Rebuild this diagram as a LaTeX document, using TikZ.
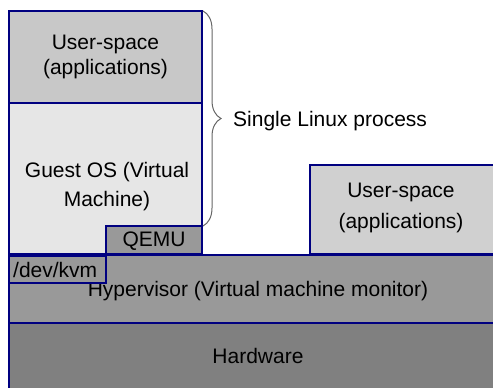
\documentclass[tikz,border=0pt]{standalone}
\usepackage{fontspec}
\setmainfont{Liberation Sans}
\usetikzlibrary{decorations.pathreplacing}

\definecolor{boxline}{RGB}{0,0,128}
\definecolor{userfill}{RGB}{200,200,200}
\definecolor{guestfill}{RGB}{230,230,230}
\definecolor{hypfill}{RGB}{153,153,153}
\definecolor{hwfill}{RGB}{128,128,128}
\definecolor{userfilltwo}{RGB}{208,208,208}

\begin{document}
\begin{tikzpicture}[x=1pt,y=1pt,
        layer/.style={draw=boxline,line width=1.5pt},
        label/.style={font=\fontsize{21}{25}\selectfont,align=center,inner sep=0pt}]
        \useasboundingbox (0,0) rectangle (493,388);
        \clip (0,0) rectangle (493,388);

        % hardware and hypervisor
        \draw[layer,fill=hwfill] (9,-5) rectangle (500,65);
        \node[label] (hw) at (258,32) {Hardware};
        \draw[layer,fill=hypfill] (9,65) rectangle (500,133);
        \node[label] (hyp) at (258,97) {Hypervisor (Virtual machine monitor)};
        \draw[layer,fill=hypfill] (9,105) rectangle (106,132);
        \node[label,anchor=west] (kvm) at (13,118) {/dev/kvm};

        % the guest inside one process
        \draw[layer,fill=guestfill] (9,285) -- (202,285) -- (202,162) -- (106,162)
              -- (106,134) -- (9,134) -- cycle;
        \node[label,font=\fontsize{21}{29}\selectfont] (guest) at (107,201) {Guest OS (Virtual\\Machine)};
        \draw[layer,fill=hypfill] (106,134) rectangle (202,162);
        \node[label] (qemu) at (154,147) {QEMU};
        \draw[layer,fill=userfill] (9,285) rectangle (202,377);
        \node[label] (guestuser) at (105.5,331) {User-space\\(applications)};

        % host user-space
        \draw[layer,fill=userfilltwo] (310,134) rectangle (500,223);
        \node[label,font=\fontsize{21}{31}\selectfont] (hostuser) at (401,180) {User-space\\(applications)};

        % brace round the process
        \coordinate (bracetop) at (203,377);
        \coordinate (bracebot) at (203,162);
        \draw[gray!80!black,line width=1pt,decorate,decoration={brace,amplitude=18pt}]
              (bracetop) -- (bracebot);
        \node[label,anchor=west] (proc) at (233,267) {Single Linux process};
\end{tikzpicture}
\end{document}
